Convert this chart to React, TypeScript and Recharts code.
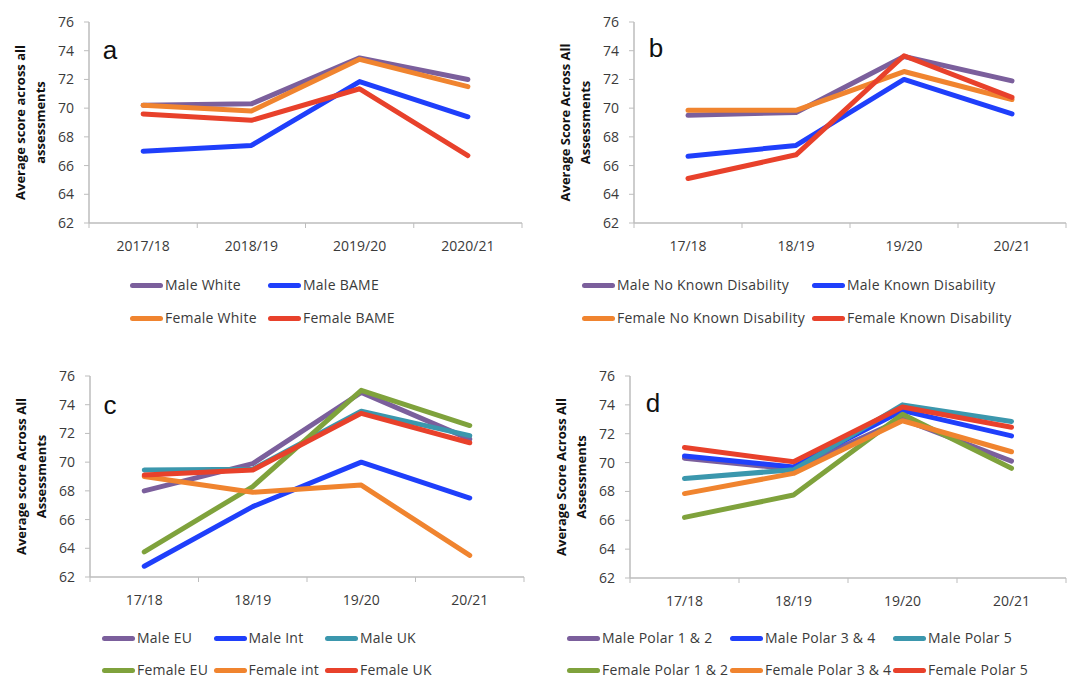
import React from 'react';
import { LineChart, Line, XAxis, YAxis } from 'recharts';

// ---------- data ----------
const yTicks = [62, 64, 66, 68, 70, 72, 74, 76];
const yearsLong = ['2017/18', '2018/19', '2019/20', '2020/21'];
const yearsShort = ['17/18', '18/19', '19/20', '20/21'];

// Panel a
const maleWhite = [70.2, 70.3, 73.5, 72.0];
const maleBame = [67.0, 67.4, 71.85, 69.4];
const femaleWhite = [70.2, 69.8, 73.4, 71.5];
const femaleBame = [69.6, 69.15, 71.35, 66.7];

// Panel b
const maleNoKnown = [69.5, 69.7, 73.6, 71.9];
const maleKnown = [66.65, 67.4, 72.0, 69.6];
const femaleNoKnown = [69.85, 69.85, 72.55, 70.6];
const femaleKnown = [65.1, 66.75, 73.65, 70.75];

// Panel c
const maleEU = [68.0, 69.9, 74.85, 71.6];
const maleInt = [62.75, 66.9, 70.0, 67.5];
const maleUK = [69.45, 69.5, 73.55, 71.85];
const femaleEU = [63.75, 68.3, 75.0, 72.55];
const femaleInt = [69.0, 67.9, 68.4, 63.5];
const femaleUK = [69.1, 69.45, 73.4, 71.35];

// Panel d
const malePolar12 = [70.3, 69.55, 73.0, 70.1];
const malePolar34 = [70.45, 69.7, 73.6, 71.85];
const malePolar5 = [68.9, 69.5, 74.0, 72.85];
const femalePolar12 = [66.2, 67.75, 73.35, 69.6];
const femalePolar34 = [67.85, 69.25, 72.9, 70.75];
const femalePolar5 = [71.05, 70.05, 73.85, 72.45];

const PURPLE = '#7b5f9c';
const BLUE = '#1f3ffb';
const ORANGE = '#f0842f';
const RED = '#e8412b';
const TEAL = '#3b97ad';
const GREEN = '#7fa23c';

type Series = { name: string; color: string; values: number[] };

const seriesA: Series[] = [
  { name: 'Male White', color: PURPLE, values: maleWhite },
  { name: 'Male BAME', color: BLUE, values: maleBame },
  { name: 'Female White', color: ORANGE, values: femaleWhite },
  { name: 'Female BAME', color: RED, values: femaleBame },
];
const seriesB: Series[] = [
  { name: 'Male No Known Disability', color: PURPLE, values: maleNoKnown },
  { name: 'Male Known Disability', color: BLUE, values: maleKnown },
  { name: 'Female No Known Disability', color: ORANGE, values: femaleNoKnown },
  { name: 'Female Known Disability', color: RED, values: femaleKnown },
];
const seriesC: Series[] = [
  { name: 'Male EU', color: PURPLE, values: maleEU },
  { name: 'Male Int', color: BLUE, values: maleInt },
  { name: 'Male UK', color: TEAL, values: maleUK },
  { name: 'Female EU', color: GREEN, values: femaleEU },
  { name: 'Female int', color: ORANGE, values: femaleInt },
  { name: 'Female UK', color: RED, values: femaleUK },
];
const seriesD: Series[] = [
  { name: 'Male Polar 1 & 2', color: PURPLE, values: malePolar12 },
  { name: 'Male Polar 3 & 4', color: BLUE, values: malePolar34 },
  { name: 'Male Polar 5', color: TEAL, values: malePolar5 },
  { name: 'Female Polar 1 & 2', color: GREEN, values: femalePolar12 },
  { name: 'Female Polar 3 & 4', color: ORANGE, values: femalePolar34 },
  { name: 'Female Polar 5', color: RED, values: femalePolar5 },
];

// ---------- layout ----------
const FONT = '"Open Sans", "DejaVu Sans", sans-serif';
const AXIS = '#bdbdbd';
const TEXT = '#3a3a3a';

type PanelCfg = {
  letter: string;
  left: number;
  top: number;
  width: number;
  height: number;
  plotLeft: number;
  plotTop: number;
  plotRight: number;
  plotBottom: number;
  categories: string[];
  series: Series[];
  yLabel: [string, string];
  letterX: number;
  letterY: number;
  legendLeft: number;
  legendColW: number;
  legendCols: number;
  legendRows: number[];
};

const panels: PanelCfg[] = [
  {
    letter: 'a', left: 0, top: 0, width: 535, height: 340,
    plotLeft: 89, plotTop: 22, plotRight: 522, plotBottom: 223,
    categories: yearsLong, series: seriesA,
    yLabel: ['Average score across all', 'assessments'],
    letterX: 110, letterY: 50,
    legendLeft: 130, legendColW: 138, legendCols: 2, legendRows: [285, 318],
  },
  {
    letter: 'b', left: 535, top: 0, width: 535, height: 340,
    plotLeft: 99, plotTop: 22, plotRight: 531, plotBottom: 223,
    categories: yearsShort, series: seriesB,
    yLabel: ['Average Score Across All', 'Assessments'],
    letterX: 121, letterY: 48,
    legendLeft: 47, legendColW: 230, legendCols: 2, legendRows: [285, 318],
  },
  {
    letter: 'c', left: 0, top: 340, width: 535, height: 340,
    plotLeft: 90, plotTop: 36, plotRight: 524, plotBottom: 237,
    categories: yearsShort, series: seriesC,
    yLabel: ['Average score Across All', 'Assessments'],
    letterX: 110, letterY: 65,
    legendLeft: 102, legendColW: 111.5, legendCols: 3, legendRows: [298, 330],
  },
  {
    letter: 'd', left: 535, top: 340, width: 535, height: 340,
    plotLeft: 95, plotTop: 36, plotRight: 531, plotBottom: 238,
    categories: yearsShort, series: seriesD,
    yLabel: ['Average Score Across All', 'Assessments'],
    letterX: 118, letterY: 63,
    legendLeft: 32, legendColW: 163, legendCols: 3, legendRows: [298, 330],
  },
];

function Panel({ cfg }: { cfg: PanelCfg }) {
  const data = cfg.categories.map((c, i) => {
    const row: Record<string, string | number> = { cat: c };
    cfg.series.forEach((s, k) => {
      row['s' + k] = s.values[i];
    });
    return row;
  });
  const band = (cfg.plotRight - cfg.plotLeft) / cfg.categories.length;
  const xAxisH = 30;
  const margin = {
    top: cfg.plotTop,
    left: 0,
    right: cfg.width - cfg.plotRight,
    bottom: cfg.height - cfg.plotBottom - xAxisH,
  };
  const lastIdx = cfg.categories.length - 1;

  const XTick = (props: any) => {
    const { x, y, payload, index } = props;
    return (
      <g>
        <line x1={x - band / 2} x2={x - band / 2} y1={y} y2={y + 5} stroke={AXIS} strokeWidth={1} />
        {index === lastIdx && (
          <line x1={x + band / 2} x2={x + band / 2} y1={y} y2={y + 5} stroke={AXIS} strokeWidth={1} />
        )}
        <text x={x} y={y + 18} dy="0.71em" textAnchor="middle" fill={TEXT} fontSize={14} fontFamily={FONT}>
          {payload.value}
        </text>
      </g>
    );
  };

  const YLabel = (props: any) => {
    const vb = props.viewBox || { x: 0, y: cfg.plotTop, width: cfg.plotLeft, height: cfg.plotBottom - cfg.plotTop };
    const right = vb.x + vb.width;
    const cy = vb.y + vb.height / 2;
    return (
      <g>
        {cfg.yLabel.map((t, i) => (
          <text
            key={i}
            transform={`translate(${right - 69 + i * 20}, ${cy}) rotate(-90)`}
            textAnchor="middle"
            dominantBaseline="central"
            fontSize={13}
            fontWeight={700}
            fontFamily={FONT}
            fill="#111"
          >
            {t}
          </text>
        ))}
      </g>
    );
  };

  return (
    <div style={{ position: 'absolute', left: cfg.left, top: cfg.top, width: cfg.width, height: cfg.height }}>
      <LineChart width={cfg.width} height={cfg.height} data={data} margin={margin}>
        <XAxis
          dataKey="cat"
          type="category"
          scale="band"
          height={xAxisH}
          axisLine={{ stroke: AXIS, strokeWidth: 1.5 }}
          tickLine={false}
          tickSize={0}
          tickMargin={0}
          interval={0}
          tick={<XTick />}
        />
        <YAxis
          width={cfg.plotLeft}
          domain={[62, 76]}
          ticks={yTicks}
          interval={0}
          allowDataOverflow
          axisLine={{ stroke: AXIS, strokeWidth: 1.5 }}
          tickLine={{ stroke: AXIS }}
          tickSize={5}
          tickMargin={10}
          tick={{ fill: TEXT, fontSize: 14, fontFamily: FONT }}
          label={<YLabel />}
        />
        {cfg.series.map((s, k) => (
          <Line
            key={s.name}
            dataKey={'s' + k}
            name={s.name}
            stroke={s.color}
            strokeWidth={5}
            strokeLinecap="round"
            strokeLinejoin="round"
            dot={false}
            activeDot={false}
            isAnimationActive={false}
          />
        ))}
      </LineChart>
      <div
        style={{
          position: 'absolute',
          left: cfg.letterX,
          top: cfg.letterY,
          transform: 'translate(-50%, -50%)',
          fontFamily: '"Liberation Sans", Arial, sans-serif',
          fontSize: 26,
          color: '#111',
          lineHeight: 1,
        }}
      >
        {cfg.letter}
      </div>
      {cfg.series.map((s, k) => {
        const col = k % cfg.legendCols;
        const row = Math.floor(k / cfg.legendCols);
        return (
          <div
            key={s.name}
            style={{
              position: 'absolute',
              left: cfg.legendLeft + col * cfg.legendColW,
              top: cfg.legendRows[row] - 8,
              height: 16,
              lineHeight: '16px',
              display: 'flex',
              alignItems: 'center',
              whiteSpace: 'nowrap',
              fontFamily: FONT,
              fontSize: 14,
              letterSpacing: '0.25px',
              color: TEXT,
            }}
          >
            <span style={{ display: 'inline-block', width: 33, height: 5, borderRadius: 3, background: s.color, marginRight: 2 }} />
            <span>{s.name}</span>
          </div>
        );
      })}
    </div>
  );
}

export default function App() {
  return (
    <div style={{ position: 'absolute', left: 0, top: 0, width: 1070, height: 680, background: '#fff', overflow: 'hidden' }}>
      {panels.map((p) => (
        <Panel key={p.letter} cfg={p} />
      ))}
    </div>
  );
}
